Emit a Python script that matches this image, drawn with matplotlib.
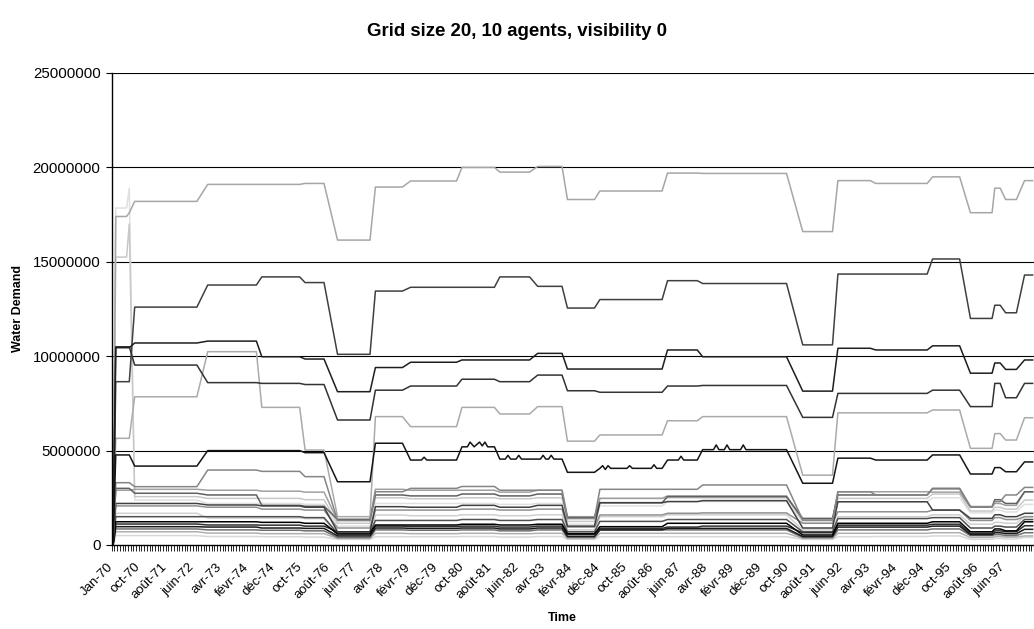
import matplotlib

matplotlib.use("Agg")

import matplotlib.pyplot as plt  # noqa: E402
import matplotlib.transforms as mtransforms  # noqa: E402
import numpy as np  # noqa: E402

plt.rcParams["font.family"] = ["Liberation Sans", "DejaVu Sans"]

N_STEPS = 341  # monthly-ish model time steps (30 days each)

tick_labels = [
    "Jan-70", "oct-70", "août-71", "juin-72", "avr-73", "févr-74", "déc-74",
    "oct-75", "août-76", "juin-77", "avr-78", "févr-79", "déc-79", "oct-80",
    "août-81", "juin-82", "avr-83", "févr-84", "déc-84", "oct-85", "août-86",
    "juin-87", "avr-88", "févr-89", "déc-89", "oct-90", "août-91", "juin-92",
    "avr-93", "févr-94", "déc-94", "oct-95", "août-96", "juin-97",
]

# (first step, last step) of each demand plateau; every run starts at 0 at step 0
plateaus = [
    (1, 5), (6, 6), (8, 31), (35, 53), (55, 69), (71, 78), (83, 95),
    (97, 107), (110, 127), (129, 141), (143, 154), (157, 166), (168, 178),
    (180, 203), (205, 216), (218, 249), (255, 266), (268, 280), (282, 301),
    (303, 313), (317, 325), (326, 328), (330, 334), (337, 340),
]

# plateau levels per run, in millions
run_a = [17.4, 17.6, 18.2, 19.1, 19.1, 19.15, 16.15, 18.96, 19.28, 20.0, 19.75, 20.05,
         18.3, 18.75, 19.7, 19.68, 16.6, 19.3, 19.15, 19.5, 17.6, 18.9, 18.3, 19.3]
run_b = [8.65, 8.65, 12.6, 13.77, 14.2, 13.9, 10.1, 13.45, 13.65, 13.65, 14.2, 13.7,
         12.55, 13.0, 14.0, 13.85, 10.6, 14.35, 14.35, 15.15, 12.0, 12.7, 12.3, 14.3]
run_c = [10.45, 10.45, 10.7, 10.8, 9.97, 9.85, 8.12, 9.4, 9.68, 9.8, 9.8, 10.15,
         9.32, 9.32, 10.33, 9.97, 8.15, 10.42, 10.33, 10.55, 9.1, 9.64, 9.3, 9.8]
run_d = [10.5, 10.5, 9.53, 8.6, 8.56, 8.5, 6.62, 8.2, 8.42, 8.78, 8.65, 9.0,
         8.17, 8.09, 8.42, 8.45, 6.76, 8.03, 8.03, 8.2, 7.33, 8.56, 7.8, 8.56]
run_e = [5.65, 5.65, 7.85, 10.24, 7.29, 5.03, 1.5, 6.8, 6.27, 7.29, 6.94, 7.33,
         5.5, 5.83, 6.58, 6.8, 3.7, 7.0, 7.0, 7.15, 5.12, 5.9, 5.56, 6.74]
run_f = [4.77, 4.77, 4.18, 5.0, 5.0, 4.89, 3.35, 5.39, 4.5, 5.2, 4.55, 4.55,
         3.85, 4.06, 4.5, 5.05, 3.27, 4.6, 4.5, 4.77, 3.76, 4.1, 3.88, 4.4]
run_g = [3.3, 3.3, 3.09, 3.97, 3.9, 3.62, 1.3, 2.82, 3.0, 3.1, 2.9, 2.9,
         1.4, 2.95, 2.95, 3.18, 1.32, 2.82, 2.65, 2.97, 2.03, 2.3, 2.65, 3.05]
run_h = [3.0, 3.0, 2.74, 2.65, 2.1, 2.05, 1.36, 2.65, 2.6, 2.7, 2.6, 2.7,
         1.45, 2.24, 2.56, 2.56, 1.41, 2.65, 2.65, 3.0, 2.03, 2.4, 2.2, 2.82]
run_i = [15.25, 17.0, 2.56, 2.47, 2.47, 2.4, 1.15, 2.5, 2.45, 2.5, 2.45, 2.5,
         1.25, 2.47, 2.5, 2.5, 1.32, 2.47, 2.47, 2.7, 1.8, 2.0, 1.9, 2.38]
run_j = [17.85, 18.9, 2.38, 2.2, 2.2, 2.15, 1.0, 2.2, 2.2, 2.2, 2.15, 2.2,
         1.1, 2.07, 2.3, 2.3, 1.2, 2.29, 2.29, 2.5, 1.7, 1.85, 1.75, 2.15]
run_k = [2.2, 2.2, 2.2, 2.12, 2.07, 2.0, 0.7, 2.03, 2.0, 2.1, 2.0, 2.1,
         1.0, 2.24, 2.3, 2.35, 0.9, 2.29, 2.29, 1.85, 1.41, 1.6, 1.5, 1.68]
run_l = [2.07, 2.07, 2.07, 2.0, 1.9, 1.85, 0.9, 1.85, 1.85, 1.9, 1.85, 1.9,
         0.95, 1.59, 1.68, 1.7, 1.15, 1.76, 1.76, 1.85, 1.3, 1.45, 1.35, 1.5]
run_m = [1.68, 1.68, 1.68, 1.43, 1.43, 1.4, 0.5, 1.59, 1.55, 1.6, 1.55, 1.6,
         0.8, 1.5, 1.6, 1.6, 0.8, 1.5, 1.5, 1.6, 1.1, 1.2, 1.15, 1.5]
run_n = [1.5, 1.5, 1.5, 1.5, 1.5, 1.45, 0.62, 1.3, 1.3, 1.35, 1.3, 1.35,
         0.7, 1.25, 1.35, 1.35, 0.7, 1.4, 1.4, 1.45, 0.9, 1.0, 0.95, 1.35]
run_o = [1.23, 1.23, 1.23, 1.23, 1.2, 1.15, 0.58, 1.06, 1.06, 1.1, 1.06, 1.1,
         0.6, 0.97, 1.15, 1.15, 0.53, 1.15, 1.15, 1.23, 0.7, 0.85, 0.75, 1.23]
run_p = [1.11, 1.11, 1.11, 1.06, 1.05, 1.0, 0.7, 1.0, 0.98, 1.0, 0.95, 1.0,
         0.55, 0.88, 0.95, 1.0, 0.65, 1.05, 1.05, 1.1, 0.62, 0.75, 0.7, 1.02]
run_q = [0.97, 0.97, 0.97, 0.95, 0.9, 0.88, 0.48, 0.9, 0.88, 0.9, 0.85, 0.9,
         0.45, 0.8, 0.88, 0.88, 0.45, 0.95, 0.95, 1.0, 0.55, 0.65, 0.6, 0.83]
run_r = [0.85, 0.85, 0.85, 0.8, 0.78, 0.75, 0.4, 0.8, 0.78, 0.8, 0.75, 0.8,
         0.42, 0.8, 0.8, 0.8, 0.4, 0.8, 0.8, 0.85, 0.5, 0.55, 0.5, 0.65]
run_s = [0.7, 0.7, 0.7, 0.63, 0.6, 0.6, 0.35, 0.62, 0.6, 0.62, 0.6, 0.62,
         0.35, 0.62, 0.62, 0.62, 0.35, 0.62, 0.62, 0.65, 0.4, 0.45, 0.42, 0.48]
run_t = [0.5, 0.5, 0.5, 0.45, 0.44, 0.42, 0.3, 0.44, 0.44, 0.45, 0.42, 0.45,
         0.3, 0.44, 0.44, 0.44, 0.3, 0.44, 0.45, 0.48, 0.3, 0.35, 0.32, 0.4]
run_u = [2.9, 2.9, 2.95, 2.9, 2.85, 2.8, 1.3, 2.95, 2.9, 2.9, 2.8, 2.9,
         1.5, 2.47, 2.6, 2.6, 1.3, 2.82, 2.82, 2.8, 2.0, 2.2, 2.1, 2.82]

# short spikes on the ~5M run inside its plateaus: (step, millions)
run_f_spikes = [
    (114, 4.5), (115, 4.65), (116, 4.5),
    (131, 5.2), (132, 5.45), (133.5, 5.2), (135.5, 5.45), (136.5, 5.25),
    (137.5, 5.45), (138.5, 5.2),
    (145, 4.55), (146, 4.75), (147, 4.55), (149, 4.55), (150, 4.75), (151, 4.55),
    (158, 4.55), (159, 4.75), (160, 4.55), (161, 4.55), (162, 4.75), (163, 4.55),
    (181, 4.2), (182, 4.0), (183, 4.2), (184, 4.06), (190, 4.06), (191, 4.2),
    (192, 4.06), (199, 4.06), (200, 4.25), (201, 4.06),
    (209, 4.5), (210, 4.7), (211, 4.5),
    (222, 5.05), (223, 5.3), (224, 5.05), (226, 5.05), (227, 5.3), (228, 5.05),
    (232, 5.05), (233, 5.3), (234, 5.05),
]

# drawing order: pale runs first, dark ones on top
runs = [
    (run_j, "#e0e0e0", ()), (run_i, "#c8c8c8", ()), (run_t, "#d8d8d8", ()),
    (run_m, "#d0d0d0", ()), (run_s, "#b0b0b0", ()), (run_u, "#a0a0a0", ()),
    (run_l, "#909090", ()), (run_r, "#707070", ()), (run_h, "#606060", ()),
    (run_n, "#505050", ()), (run_k, "#404040", ()), (run_p, "#303030", ()),
    (run_q, "#1a1a1a", ()), (run_o, "#000000", ()), (run_a, "#a6a6a6", ()),
    (run_e, "#aaaaaa", ()), (run_g, "#858585", ()), (run_b, "#404040", ()),
    (run_d, "#333333", ()), (run_c, "#1e1e1e", ()), (run_f, "#151515", run_f_spikes),
]


def run_points(levels, spikes=()):
    pts = [(0, 0.0)]
    for (start, end), level in zip(plateaus, levels):
        pts += [(start, level), (end, level)]
    pts = sorted(pts + list(spikes), key=lambda p: p[0])
    return [p[0] for p in pts], [p[1] * 1e6 for p in pts]


fig = plt.figure(figsize=(10.34, 6.29), dpi=100)
ax = fig.add_axes([111.7 / 1034, 84 / 629, 1 - 111.7 / 1034, 472 / 629])

for levels, color, spikes in runs:
    xs, ys = run_points(levels, spikes)
    ax.plot(xs, ys, color=color, lw=1.1, solid_joinstyle="round")

ax.set_xlim(-0.5, N_STEPS - 0.5)
ax.set_ylim(0, 25_000_000)

yticks = [0, 5_000_000, 10_000_000, 15_000_000, 20_000_000, 25_000_000]
ax.set_yticks(yticks, [str(v) for v in yticks])
for v in yticks[1:]:
    ax.axhline(v, color="#000000", lw=0.8, zorder=0.5)

ax.set_xticks(range(0, 10 * len(tick_labels), 10), tick_labels)
ax.set_xticks(np.arange(-0.5, N_STEPS, 1), minor=True)
ax.tick_params(axis="x", which="major", length=0, pad=11.5, labelsize=9.5)
ax.tick_params(axis="x", which="minor", length=4, width=0.6, direction="out")
ax.tick_params(axis="y", length=4, width=0.8, direction="out", labelsize=10.8, pad=4)

shift = mtransforms.ScaledTranslation(-0.06, 0, fig.dpi_scale_trans)
for lab in ax.get_xticklabels():
    lab.set_rotation(45)
    lab.set_rotation_mode("anchor")
    lab.set_ha("right")
    lab.set_va("top")
    lab.set_transform(lab.get_transform() + shift)

for side in ("top", "right"):
    ax.spines[side].set_visible(False)
for side in ("left", "bottom"):
    ax.spines[side].set_color("black")
    ax.spines[side].set_linewidth(1.0)

fig.text(517 / 1034, 1 - 32 / 629, "Grid size 20, 10 agents, visibility 0",
         ha="center", va="center", fontsize=13.4, fontweight="bold")
fig.text(18 / 1034, 1 - 309 / 629, "Water Demand", rotation=90,
         ha="center", va="center", fontsize=9, fontweight="bold")
fig.text(562 / 1034, 1 - 618 / 629, "Time", ha="center", va="center",
         fontsize=9, fontweight="bold")

fig.savefig("out.png", dpi=100)
